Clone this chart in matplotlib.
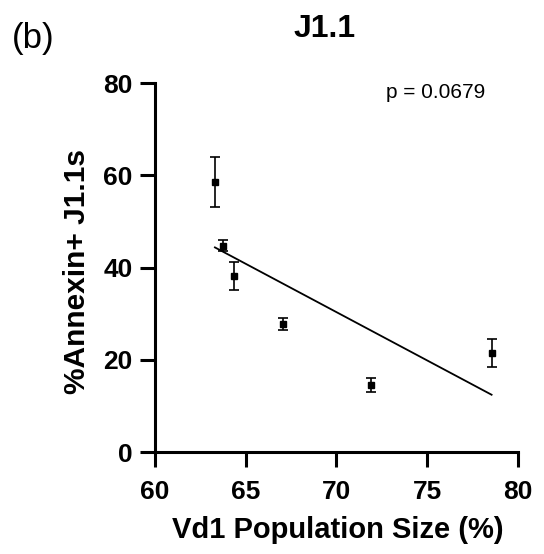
import numpy as np
import matplotlib
matplotlib.use("Agg")
import matplotlib.pyplot as plt

plt.rcParams['font.family'] = ['Liberation Sans', 'DejaVu Sans']

# Vd1 population size vs. % Annexin+ J1.1 cells (mean +/- SEM)
vd1_size = [63.3, 63.75, 64.35, 67.05, 71.9, 78.55]
annexin_pct = [58.6, 44.7, 38.2, 27.8, 14.5, 21.5]
annexin_err = [5.4, 1.2, 3.0, 1.3, 1.5, 3.0]
p_value = "p = 0.0679"

fig = plt.figure(figsize=(5.44, 5.54), dpi=100)
ax = fig.add_axes([0.285, 0.184, 0.667, 0.666])

ax.errorbar(vd1_size, annexin_pct, yerr=annexin_err, fmt='s', color='black',
            markersize=5, capsize=3.5, elinewidth=1.2, capthick=1.2)

# linear regression over the data range
slope, intercept = np.polyfit(vd1_size, annexin_pct, 1)
xs = np.array([min(vd1_size), max(vd1_size)])
ax.plot(xs, slope * xs + intercept, color='black', lw=1.3)

ax.set_xlim(60, 80)
ax.set_ylim(0, 80)
ax.set_xticks([60, 65, 70, 75, 80])
ax.set_yticks([0, 20, 40, 60, 80])

for s in ['top', 'right']:
    ax.spines[s].set_visible(False)
for s in ['left', 'bottom']:
    ax.spines[s].set_linewidth(2.2)
ax.tick_params(width=2.2, length=11, labelsize=19)
ax.tick_params(axis='x', pad=9)
ax.tick_params(axis='y', pad=5)
for lab in ax.get_xticklabels() + ax.get_yticklabels():
    lab.set_fontweight('bold')

ax.set_xlabel('Vd1 Population Size (%)', fontsize=21, fontweight='bold')
ax.set_ylabel('%Annexin+ J1.1s', fontsize=21.5, fontweight='bold')
ax.xaxis.set_label_coords(0.505, -0.211)
ax.xaxis.label.set_va('center')
ax.yaxis.set_label_coords(-0.215, 0.49)
ax.yaxis.label.set_va('center')

ax.text(0.909, 0.975, p_value, transform=ax.transAxes, ha='right', va='center', fontsize=15)
fig.text(0.597, 0.948, 'J1.1', ha='center', va='center', fontsize=23, fontweight='bold')
fig.text(0.022, 0.93, '(b)', ha='left', va='center', fontsize=25)

fig.savefig('out.png', dpi=100)
